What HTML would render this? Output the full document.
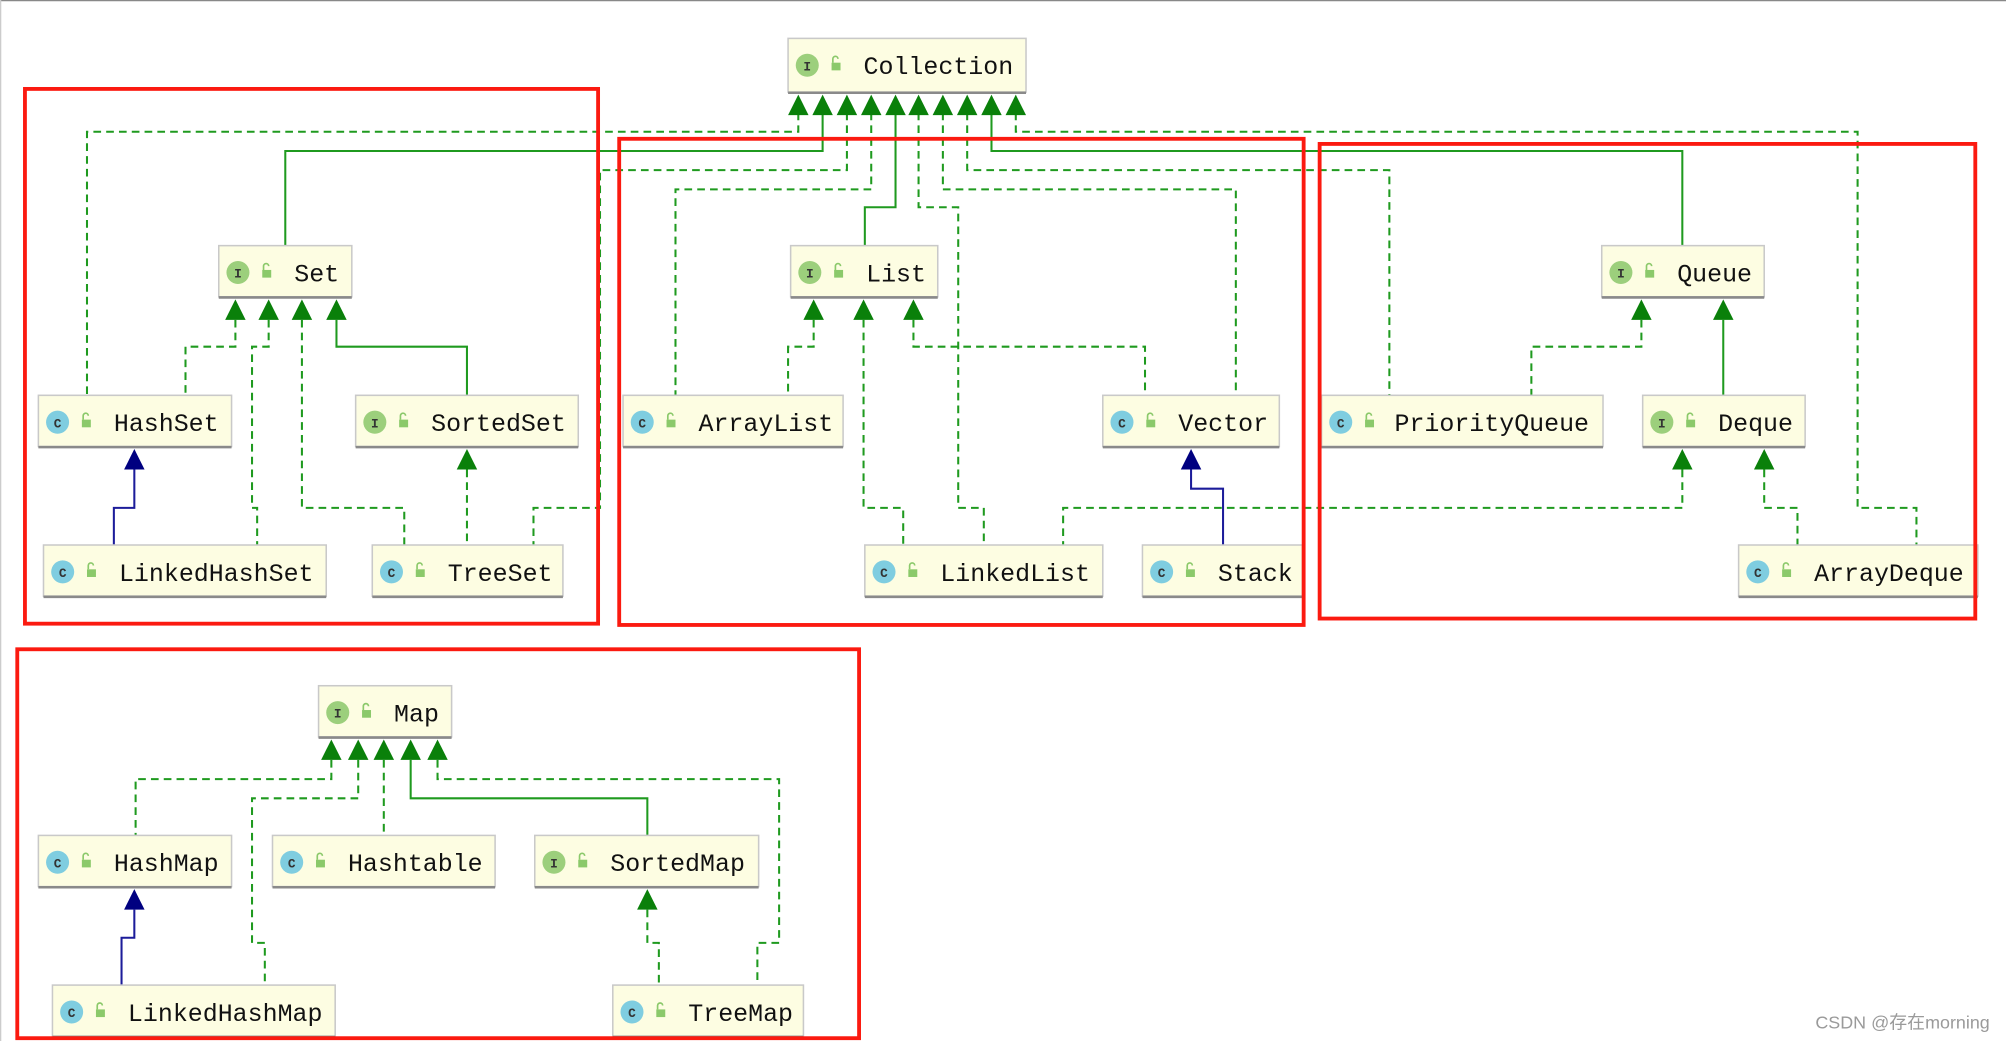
<!DOCTYPE html>
<html><head><meta charset="utf-8"><style>
html,body{margin:0;padding:0;background:#fff;width:2006px;height:1041px;overflow:hidden}
svg{display:block}
.n rect.b{fill:#fdfde2;stroke:#c9c9c9;stroke-width:1.2}
.t{font-family:"Liberation Mono",monospace;font-size:19.5px;fill:#111}
.ic{font-family:"Liberation Mono",monospace;font-size:10px;fill:#333;text-anchor:middle;font-weight:bold}
.d{fill:none;stroke:#1f9a1f;stroke-width:1.6;stroke-dasharray:6,4}
.s{fill:none;stroke:#1f9a1f;stroke-width:1.6}
.v{fill:none;stroke:#1c1c9a;stroke-width:1.6}
.r{fill:none;stroke:#fb1a10;stroke-width:3}
</style></head><body>
<svg width="2006" height="1041" viewBox="0 0 1568 813.7" preserveAspectRatio="none" xmlns="http://www.w3.org/2000/svg">
<defs>
<g id="lk"><rect x="2" y="5" width="7" height="6" fill="#8bc96a"/><path d="M3 5 V2 a2 2 0 0 1 4 0" fill="none" stroke="#8bc96a" stroke-width="1.3"/></g>
<g id="ga"><polygon points="0,2 -8,18 8,18" fill="#0a800a"/></g>
<g id="na"><polygon points="0,2 -8,18 8,18" fill="#000080"/></g>
</defs>
<line x1="0" y1="0.5" x2="1568" y2="0.5" stroke="#888" stroke-width="1"/>
<line x1="0.5" y1="0" x2="0.5" y2="813.7" stroke="#ccc" stroke-width="1"/>

<!-- connectors: Collection -->
<polyline class="d" points="624,88 624,103 68,103 68,309"/>
<polyline class="s" points="643,88 643,118 223,118 223,192"/>
<polyline class="d" points="662,88 662,133 469,133 469,397 417,397 417,426"/>
<polyline class="d" points="681,88 681,148 528,148 528,309"/>
<polyline class="s" points="700,88 700,162 676,162 676,192"/>
<polyline class="d" points="718,88 718,162 749,162 749,397 769,397 769,426"/>
<polyline class="d" points="737,88 737,148 966,148 966,309"/>
<polyline class="d" points="756,88 756,133 1086,133 1086,309"/>
<polyline class="s" points="775,88 775,118 1315,118 1315,192"/>
<polyline class="d" points="794,88 794,103 1452,103 1452,397 1498,397 1498,426"/>
<!-- Set -->
<polyline class="d" points="184,250 184,271 145,271 145,309"/>
<polyline class="d" points="210,250 210,271 197,271 197,397 201,397 201,426"/>
<polyline class="d" points="236,250 236,397 316,397 316,426"/>
<polyline class="s" points="263,250 263,271 365,271 365,309"/>
<polyline class="d" points="365,367 365,426"/>
<polyline class="v" points="105,367 105,397 89,397 89,426"/>
<!-- List -->
<polyline class="d" points="636,250 636,271 616,271 616,309"/>
<polyline class="d" points="675,250 675,397 706,397 706,426"/>
<polyline class="d" points="714,250 714,271 895,271 895,309"/>
<polyline class="v" points="931,367 931,382 956,382 956,426"/>
<!-- Queue / Deque -->
<polyline class="d" points="1283,250 1283,271 1197,271 1197,309"/>
<polyline class="s" points="1347,250 1347,309"/>
<polyline class="d" points="1315,367 1315,397 831,397 831,426"/>
<polyline class="d" points="1379,367 1379,397 1405,397 1405,426"/>
<!-- Map -->
<polyline class="d" points="259,594 259,609 106,609 106,653"/>
<polyline class="d" points="280,594 280,624 197,624 197,737 207,737 207,770"/>
<polyline class="d" points="300,594 300,653"/>
<polyline class="s" points="321,594 321,624 506,624 506,653"/>
<polyline class="d" points="342,594 342,609 609,609 609,737 592,737 592,770"/>
<polyline class="v" points="105,711 105,733 95,733 95,770"/>
<polyline class="d" points="506,711 506,737 515,737 515,770"/>

<!-- arrowheads -->
<use href="#ga" x="624" y="72"/><use href="#ga" x="643" y="72"/><use href="#ga" x="662" y="72"/><use href="#ga" x="681" y="72"/><use href="#ga" x="700" y="72"/><use href="#ga" x="718" y="72"/><use href="#ga" x="737" y="72"/><use href="#ga" x="756" y="72"/><use href="#ga" x="775" y="72"/><use href="#ga" x="794" y="72"/>
<use href="#ga" x="184" y="232"/><use href="#ga" x="210" y="232"/><use href="#ga" x="236" y="232"/><use href="#ga" x="263" y="232"/>
<use href="#ga" x="636" y="232"/><use href="#ga" x="675" y="232"/><use href="#ga" x="714" y="232"/>
<use href="#ga" x="1283" y="232"/><use href="#ga" x="1347" y="232"/>
<use href="#ga" x="365" y="349"/><use href="#na" x="105" y="349"/><use href="#na" x="931" y="349"/>
<use href="#ga" x="1315" y="349"/><use href="#ga" x="1379" y="349"/>
<use href="#ga" x="259" y="576"/><use href="#ga" x="280" y="576"/><use href="#ga" x="300" y="576"/><use href="#ga" x="321" y="576"/><use href="#ga" x="342" y="576"/>
<use href="#na" x="105" y="693"/><use href="#ga" x="506" y="693"/>

<!-- nodes -->
<g class="n">
<g transform="translate(616,30)"><rect class="b" x="0" y="0" width="186" height="42"/><line x1="0" y1="42.5" x2="186" y2="42.5" stroke="#8a8a8a" stroke-width="2"/><circle cx="15" cy="21" r="9" fill="#9ccf7c"/><text class="ic" x="15" y="25">I</text><use href="#lk" x="32" y="14"/><text class="t" x="59" y="28">Collection</text></g>
<g transform="translate(171,192)"><rect class="b" x="0" y="0" width="104" height="40"/><line x1="0" y1="40.5" x2="104" y2="40.5" stroke="#8a8a8a" stroke-width="2"/><circle cx="15" cy="21" r="9" fill="#9ccf7c"/><text class="ic" x="15" y="25">I</text><use href="#lk" x="32" y="14"/><text class="t" x="59" y="28">Set</text></g>
<g transform="translate(618,192)"><rect class="b" x="0" y="0" width="115" height="40"/><line x1="0" y1="40.5" x2="115" y2="40.5" stroke="#8a8a8a" stroke-width="2"/><circle cx="15" cy="21" r="9" fill="#9ccf7c"/><text class="ic" x="15" y="25">I</text><use href="#lk" x="32" y="14"/><text class="t" x="59" y="28">List</text></g>
<g transform="translate(1252,192)"><rect class="b" x="0" y="0" width="127" height="40"/><line x1="0" y1="40.5" x2="127" y2="40.5" stroke="#8a8a8a" stroke-width="2"/><circle cx="15" cy="21" r="9" fill="#9ccf7c"/><text class="ic" x="15" y="25">I</text><use href="#lk" x="32" y="14"/><text class="t" x="59" y="28">Queue</text></g>
<g transform="translate(30,309)"><rect class="b" x="0" y="0" width="151" height="40"/><line x1="0" y1="40.5" x2="151" y2="40.5" stroke="#8a8a8a" stroke-width="2"/><circle cx="15" cy="21" r="9" fill="#7fcde0"/><text class="ic" x="15" y="25">C</text><use href="#lk" x="32" y="14"/><text class="t" x="59" y="28">HashSet</text></g>
<g transform="translate(278,309)"><rect class="b" x="0" y="0" width="174" height="40"/><line x1="0" y1="40.5" x2="174" y2="40.5" stroke="#8a8a8a" stroke-width="2"/><circle cx="15" cy="21" r="9" fill="#9ccf7c"/><text class="ic" x="15" y="25">I</text><use href="#lk" x="32" y="14"/><text class="t" x="59" y="28">SortedSet</text></g>
<g transform="translate(487,309)"><rect class="b" x="0" y="0" width="172" height="40"/><line x1="0" y1="40.5" x2="172" y2="40.5" stroke="#8a8a8a" stroke-width="2"/><circle cx="15" cy="21" r="9" fill="#7fcde0"/><text class="ic" x="15" y="25">C</text><use href="#lk" x="32" y="14"/><text class="t" x="59" y="28">ArrayList</text></g>
<g transform="translate(862,309)"><rect class="b" x="0" y="0" width="138" height="40"/><line x1="0" y1="40.5" x2="138" y2="40.5" stroke="#8a8a8a" stroke-width="2"/><circle cx="15" cy="21" r="9" fill="#7fcde0"/><text class="ic" x="15" y="25">C</text><use href="#lk" x="32" y="14"/><text class="t" x="59" y="28">Vector</text></g>
<g transform="translate(1033,309)"><rect class="b" x="0" y="0" width="220" height="40"/><line x1="0" y1="40.5" x2="220" y2="40.5" stroke="#8a8a8a" stroke-width="2"/><circle cx="15" cy="21" r="9" fill="#7fcde0"/><text class="ic" x="15" y="25">C</text><use href="#lk" x="32" y="14"/><text class="t" x="57" y="28">PriorityQueue</text></g>
<g transform="translate(1284,309)"><rect class="b" x="0" y="0" width="127" height="40"/><line x1="0" y1="40.5" x2="127" y2="40.5" stroke="#8a8a8a" stroke-width="2"/><circle cx="15" cy="21" r="9" fill="#9ccf7c"/><text class="ic" x="15" y="25">I</text><use href="#lk" x="32" y="14"/><text class="t" x="59" y="28">Deque</text></g>
<g transform="translate(34,426)"><rect class="b" x="0" y="0" width="221" height="40"/><line x1="0" y1="40.5" x2="221" y2="40.5" stroke="#8a8a8a" stroke-width="2"/><circle cx="15" cy="21" r="9" fill="#7fcde0"/><text class="ic" x="15" y="25">C</text><use href="#lk" x="32" y="14"/><text class="t" x="59" y="28">LinkedHashSet</text></g>
<g transform="translate(291,426)"><rect class="b" x="0" y="0" width="149" height="40"/><line x1="0" y1="40.5" x2="149" y2="40.5" stroke="#8a8a8a" stroke-width="2"/><circle cx="15" cy="21" r="9" fill="#7fcde0"/><text class="ic" x="15" y="25">C</text><use href="#lk" x="32" y="14"/><text class="t" x="59" y="28">TreeSet</text></g>
<g transform="translate(676,426)"><rect class="b" x="0" y="0" width="186" height="40"/><line x1="0" y1="40.5" x2="186" y2="40.5" stroke="#8a8a8a" stroke-width="2"/><circle cx="15" cy="21" r="9" fill="#7fcde0"/><text class="ic" x="15" y="25">C</text><use href="#lk" x="32" y="14"/><text class="t" x="59" y="28">LinkedList</text></g>
<g transform="translate(893,426)"><rect class="b" x="0" y="0" width="125" height="40"/><line x1="0" y1="40.5" x2="125" y2="40.5" stroke="#8a8a8a" stroke-width="2"/><circle cx="15" cy="21" r="9" fill="#7fcde0"/><text class="ic" x="15" y="25">C</text><use href="#lk" x="32" y="14"/><text class="t" x="59" y="28">Stack</text></g>
<g transform="translate(1359,426)"><rect class="b" x="0" y="0" width="187" height="40"/><line x1="0" y1="40.5" x2="187" y2="40.5" stroke="#8a8a8a" stroke-width="2"/><circle cx="15" cy="21" r="9" fill="#7fcde0"/><text class="ic" x="15" y="25">C</text><use href="#lk" x="32" y="14"/><text class="t" x="59" y="28">ArrayDeque</text></g>
<g transform="translate(249,536)"><rect class="b" x="0" y="0" width="104" height="40"/><line x1="0" y1="40.5" x2="104" y2="40.5" stroke="#8a8a8a" stroke-width="2"/><circle cx="15" cy="21" r="9" fill="#9ccf7c"/><text class="ic" x="15" y="25">I</text><use href="#lk" x="32" y="14"/><text class="t" x="59" y="28">Map</text></g>
<g transform="translate(30,653)"><rect class="b" x="0" y="0" width="151" height="40"/><line x1="0" y1="40.5" x2="151" y2="40.5" stroke="#8a8a8a" stroke-width="2"/><circle cx="15" cy="21" r="9" fill="#7fcde0"/><text class="ic" x="15" y="25">C</text><use href="#lk" x="32" y="14"/><text class="t" x="59" y="28">HashMap</text></g>
<g transform="translate(213,653)"><rect class="b" x="0" y="0" width="174" height="40"/><line x1="0" y1="40.5" x2="174" y2="40.5" stroke="#8a8a8a" stroke-width="2"/><circle cx="15" cy="21" r="9" fill="#7fcde0"/><text class="ic" x="15" y="25">C</text><use href="#lk" x="32" y="14"/><text class="t" x="59" y="28">Hashtable</text></g>
<g transform="translate(418,653)"><rect class="b" x="0" y="0" width="175" height="40"/><line x1="0" y1="40.5" x2="175" y2="40.5" stroke="#8a8a8a" stroke-width="2"/><circle cx="15" cy="21" r="9" fill="#9ccf7c"/><text class="ic" x="15" y="25">I</text><use href="#lk" x="32" y="14"/><text class="t" x="59" y="28">SortedMap</text></g>
<g transform="translate(41,770)"><rect class="b" x="0" y="0" width="221" height="40"/><line x1="0" y1="40.5" x2="221" y2="40.5" stroke="#8a8a8a" stroke-width="2"/><circle cx="15" cy="21" r="9" fill="#7fcde0"/><text class="ic" x="15" y="25">C</text><use href="#lk" x="32" y="14"/><text class="t" x="59" y="28">LinkedHashMap</text></g>
<g transform="translate(479,770)"><rect class="b" x="0" y="0" width="149" height="40"/><line x1="0" y1="40.5" x2="149" y2="40.5" stroke="#8a8a8a" stroke-width="2"/><circle cx="15" cy="21" r="9" fill="#7fcde0"/><text class="ic" x="15" y="25">C</text><use href="#lk" x="32" y="14"/><text class="t" x="59" y="28">TreeMap</text></g>
</g>

<!-- red boxes -->
<rect class="r" x="19.5" y="69.5" width="448" height="418"/>
<rect class="r" x="484" y="108.5" width="535" height="380"/>
<rect class="r" x="1031.5" y="112.5" width="512.5" height="371"/>
<rect class="r" x="13.5" y="507.5" width="658" height="304"/>

<text x="1419" y="804" style="font-family:'Liberation Sans','Noto Sans CJK SC',sans-serif;font-size:14px;fill:#9a9a9a">CSDN @存在morning</text>
</svg>
</body></html>
